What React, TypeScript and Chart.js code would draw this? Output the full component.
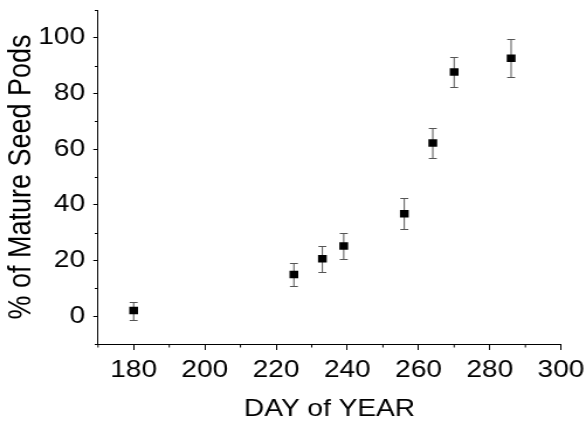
import React, { useEffect, useRef } from 'react';
import { Chart, registerables } from 'chart.js';

Chart.register(...registerables);

// ---- data ----
const dayOfYear = [180, 225, 233, 239, 256, 264, 270, 286];
const maturePct = [2, 15, 20.6, 25.2, 36.8, 62.2, 87.7, 92.7];
const errPct = [3.2, 4, 4.7, 4.7, 5.6, 5.4, 5.3, 6.9];

const xMin = 170;
const xMax = 300;
const yMin = -10;
const yMax = 110;
const xTitle = 'DAY of YEAR';
const yTitle = '% of Mature Seed Pods';

// the reference picture is horizontally stretched; draw narrower and stretch
const PAGE_W = 586;
const PAGE_H = 421;
const W = 501;
const STRETCH = PAGE_W / W;

const FONT = 'Liberation Sans, Arial, Helvetica, sans-serif';

const errorBarPlugin = {
  id: 'errorBars',
  beforeDatasetsDraw(chart: any) {
    const { ctx, scales } = chart;
    const xs = scales.x;
    const ys = scales.y;
    ctx.save();
    ctx.strokeStyle = '#555';
    ctx.lineWidth = 1;
    const cap = 3.4;
    dayOfYear.forEach((d, i) => {
      const px = xs.getPixelForValue(d);
      const top = Math.round(ys.getPixelForValue(maturePct[i] + errPct[i])) + 0.5;
      const bot = Math.round(ys.getPixelForValue(maturePct[i] - errPct[i])) + 0.5;
      ctx.beginPath();
      ctx.moveTo(px, top);
      ctx.lineTo(px, bot);
      ctx.moveTo(px - cap, top);
      ctx.lineTo(px + cap, top);
      ctx.moveTo(px - cap, bot);
      ctx.lineTo(px + cap, bot);
      ctx.stroke();
    });
    ctx.restore();
  },
};

const minorTickPlugin = {
  id: 'minorTicks',
  afterDraw(chart: any) {
    const { ctx, scales } = chart;
    const xs = scales.x;
    const ys = scales.y;
    ctx.save();
    ctx.strokeStyle = '#000';
    ctx.lineWidth = 1;
    ctx.beginPath();
    xs.ticks.forEach((t: any) => {
      if (t.value % 20 !== 0) {
        const px = xs.getPixelForValue(t.value);
        ctx.moveTo(px, xs.top);
        ctx.lineTo(px, xs.top + 3.5);
      }
    });
    ys.ticks.forEach((t: any) => {
      if (t.value % 20 !== 0) {
        const py = Math.round(ys.getPixelForValue(t.value)) + 0.5;
        ctx.moveTo(ys.right, py);
        ctx.lineTo(ys.right - 2.8, py);
      }
    });
    ctx.stroke();
    ctx.restore();
  },
};

export default function App() {
  const ref = useRef<HTMLCanvasElement | null>(null);

  useEffect(() => {
    if (!ref.current) return;
    const chart = new Chart(ref.current, {
      type: 'scatter',
      data: {
        datasets: [
          {
            data: dayOfYear.map((d, i) => ({ x: d, y: maturePct[i] })),
            pointStyle: 'rect',
            pointRadius: 5.3,
            pointHoverRadius: 5.3,
            backgroundColor: '#000',
            borderColor: '#000',
            borderWidth: 0,
            showLine: false,
          },
        ],
      },
      options: {
        responsive: false,
        animation: false,
        events: [],
        layout: {
          padding: { left: 0, right: W - 561 / STRETCH, top: 10, bottom: 0 },
        },
        plugins: {
          legend: { display: false },
          tooltip: { enabled: false },
          title: { display: false },
        },
        scales: {
          x: {
            type: 'linear',
            min: xMin,
            max: xMax,
            afterFit(scale: any) {
              scale.height = PAGE_H - 344;
              scale.paddingLeft = 0;
              scale.paddingRight = 0;
              scale.paddingTop = 0;
              scale.paddingBottom = 0;
            },
            border: { display: true, color: '#000', width: 1 },
            grid: {
              display: true,
              drawOnChartArea: false,
              drawTicks: true,
              tickLength: 6,
              tickWidth: 1,
              tickColor: (c: any) =>
                c.tick && c.tick.value % 20 === 0 ? '#000' : 'rgba(0,0,0,0)',
            },
            ticks: {
              stepSize: 10,
              autoSkip: false,
              maxRotation: 0,
              padding: 8,
              color: '#000',
              font: { family: FONT, size: 24, lineHeight: 1 },
              callback: (v: any) => (Number(v) % 20 === 0 ? String(v) : ''),
            },
            title: {
              display: true,
              text: xTitle,
              color: '#000',
              font: { family: FONT, size: 24, lineHeight: 1 },
              padding: { top: 0, bottom: 0 },
            },
          },
          y: {
            type: 'linear',
            min: yMin,
            max: yMax,
            afterFit(scale: any) {
              scale.width = 98 / STRETCH;
              scale.paddingLeft = 0;
              scale.paddingRight = 0;
              scale.paddingTop = 0;
              scale.paddingBottom = 0;
            },
            border: { display: true, color: '#000', width: 1 },
            grid: {
              display: true,
              drawOnChartArea: false,
              drawTicks: true,
              tickLength: 4,
              tickWidth: 1,
              tickColor: (c: any) =>
                c.tick && c.tick.value % 20 === 0 && c.tick.value >= 0 && c.tick.value <= 100
                  ? '#000'
                  : 'rgba(0,0,0,0)',
            },
            ticks: {
              stepSize: 10,
              autoSkip: false,
              padding: 7,
              color: '#000',
              font: { family: FONT, size: 24, lineHeight: 1 },
              callback: (v: any) => {
                const n = Number(v);
                return n % 20 === 0 && n >= 0 && n <= 100 ? String(n) : '';
              },
            },
            title: {
              display: true,
              text: yTitle,
              color: '#000',
              font: { family: FONT, size: 27, lineHeight: 1 },
              padding: { top: 5.5, bottom: 0 },
            },
          },
        },
      },
      plugins: [errorBarPlugin, minorTickPlugin],
    } as any);
    return () => chart.destroy();
  }, []);

  return (
    <div
      style={{
        position: 'fixed',
        left: 0,
        top: 0,
        width: PAGE_W,
        height: PAGE_H,
        overflow: 'hidden',
        background: '#fff',
      }}
    >
      <div
        style={{
          width: W,
          height: PAGE_H,
          transform: `scaleX(${STRETCH})`,
          transformOrigin: '0 0',
        }}
      >
        <canvas ref={ref} width={W} height={PAGE_H} />
      </div>
    </div>
  );
}
